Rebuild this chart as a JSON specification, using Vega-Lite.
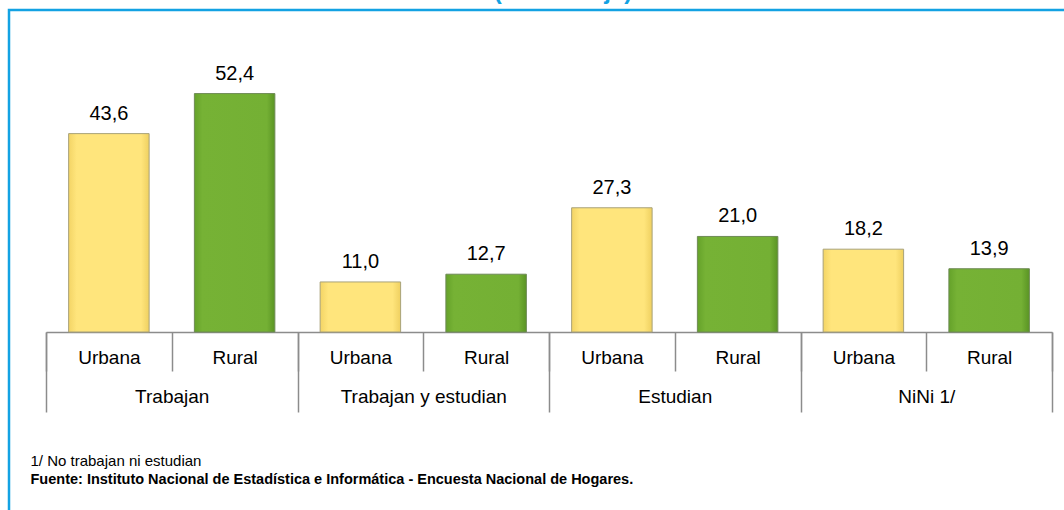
{
  "$schema": "https://vega.github.io/schema/vega-lite/v6.json",
  "autosize": {"type": "none"},
  "padding": {"left": 9, "top": 10, "right": 0, "bottom": 0},
  "width": 1100,
  "height": 520,
  "background": "white",
  "title": {
    "text": "(Porcentaje)",
    "color": "#13A2E3",
    "fontSize": 24,
    "fontWeight": "bold",
    "font": "Liberation Sans",
    "anchor": "middle",
    "baseline": "alphabetic",
    "offset": 0,
    "dx": 4,
    "dy": 13
  },
  "config": {
    "view": {"stroke": "#13A2E3", "strokeWidth": 2.5},
    "axis": {
      "labelFont": "Liberation Sans",
      "labelFontSize": 19,
      "labelColor": "#000000",
      "domainColor": "#8C8C8C",
      "tickColor": "#8C8C8C",
      "domainWidth": 1.5,
      "tickWidth": 1.5,
      "titleFont": "Liberation Sans",
      "titleColor": "#000000"
    }
  },
  "data": {
    "values": [
      {"grupo": "Trabajan", "zona": "Urbana", "v": 43.6},
      {"grupo": "Trabajan", "zona": "Rural", "v": 52.4},
      {"grupo": "Trabajan y estudian", "zona": "Urbana", "v": 11.0},
      {"grupo": "Trabajan y estudian", "zona": "Rural", "v": 12.7},
      {"grupo": "Estudian", "zona": "Urbana", "v": 27.3},
      {"grupo": "Estudian", "zona": "Rural", "v": 21.0},
      {"grupo": "NiNi  1/", "zona": "Urbana", "v": 18.2},
      {"grupo": "NiNi  1/", "zona": "Rural", "v": 13.9}
    ]
  },
  "transform": [
    {"calculate": "datum.grupo + '|' + datum.zona", "as": "cat"},
    {"calculate": "replace(format(datum.v, '.1f'), '.', ',')", "as": "lbl"}
  ],
  "layer": [
    {
      "encoding": {
        "x": {
          "field": "cat",
          "type": "nominal",
          "sort": ["Trabajan|Urbana", "Trabajan|Rural", "Trabajan y estudian|Urbana", "Trabajan y estudian|Rural", "Estudian|Urbana", "Estudian|Rural", "NiNi  1/|Urbana", "NiNi  1/|Rural"],
          "scale": {"range": [37, 1043], "paddingInner": 0, "paddingOuter": 0},
          "axis": {
            "orient": "bottom",
            "offset": -198,
            "tickBand": "extent",
            "tickSize": 39,
            "labelPadding": -23,
            "labelAngle": 0,
            "labelBaseline": "top",
            "labelExpr": "split(datum.label, '|')[1]",
            "title": "1/ No trabajan ni estudian",
            "titleFontSize": 15,
            "titleFontWeight": "normal",
            "titleAlign": "left",
            "titleAnchor": "start",
            "titleBaseline": "middle",
            "titleX": 21,
            "titleY": 128
          }
        },
        "y": {
          "field": "v",
          "type": "quantitative",
          "scale": {"domain": [-43.52, 70.77], "nice": false, "zero": false},
          "axis": null
        }
      },
      "layer": [
        {
          "transform": [{"filter": "datum.zona === 'Urbana'"}],
          "mark": {
            "type": "bar",
            "width": {"band": 0.64},
            "stroke": "#A8A27A",
            "strokeWidth": 1,
            "color": {
              "gradient": "linear", "x1": 0, "x2": 1, "y1": 0, "y2": 0,
              "stops": [
                {"offset": 0, "color": "#F3D465"},
                {"offset": 0.1, "color": "#FFE57C"},
                {"offset": 0.9, "color": "#FFE57C"},
                {"offset": 1, "color": "#EFD060"}
              ]
            }
          },
          "encoding": {"y2": {"datum": 0}}
        },
        {
          "transform": [{"filter": "datum.zona === 'Rural'"}],
          "mark": {
            "type": "bar",
            "width": {"band": 0.64},
            "stroke": "#6E8A55",
            "strokeWidth": 1,
            "color": {
              "gradient": "linear", "x1": 0, "x2": 1, "y1": 0, "y2": 0,
              "stops": [
                {"offset": 0, "color": "#65A22A"},
                {"offset": 0.1, "color": "#76B235"},
                {"offset": 0.9, "color": "#74B034"},
                {"offset": 1, "color": "#5A9424"}
              ]
            }
          },
          "encoding": {"y2": {"datum": 0}}
        },
        {
          "mark": {"type": "text", "baseline": "bottom", "dy": -10, "fontSize": 20, "font": "Liberation Sans", "color": "#000000"},
          "encoding": {"text": {"field": "lbl"}}
        }
      ]
    },
    {
      "mark": {"type": "rule", "opacity": 0},
      "encoding": {
        "x": {
          "field": "grupo",
          "type": "nominal",
          "sort": ["Trabajan", "Trabajan y estudian", "Estudian", "NiNi  1/"],
          "scale": {"range": [37, 1043], "paddingInner": 0, "paddingOuter": 0},
          "axis": {
            "orient": "bottom",
            "offset": -198,
            "domain": false,
            "tickBand": "extent",
            "tickSize": 80,
            "labelPadding": -25,
            "labelAngle": 0,
            "labelBaseline": "top",
            "title": "Fuente: Instituto Nacional de Estadística e Informática - Encuesta Nacional de Hogares.",
            "titleFontSize": 14.5,
            "titleFontWeight": "bold",
            "titleAlign": "left",
            "titleAnchor": "start",
            "titleBaseline": "middle",
            "titleX": 21,
            "titleY": 147
          }
        }
      }
    }
  ],
  "resolve": {"scale": {"x": "independent"}, "axis": {"x": "independent"}}
}
